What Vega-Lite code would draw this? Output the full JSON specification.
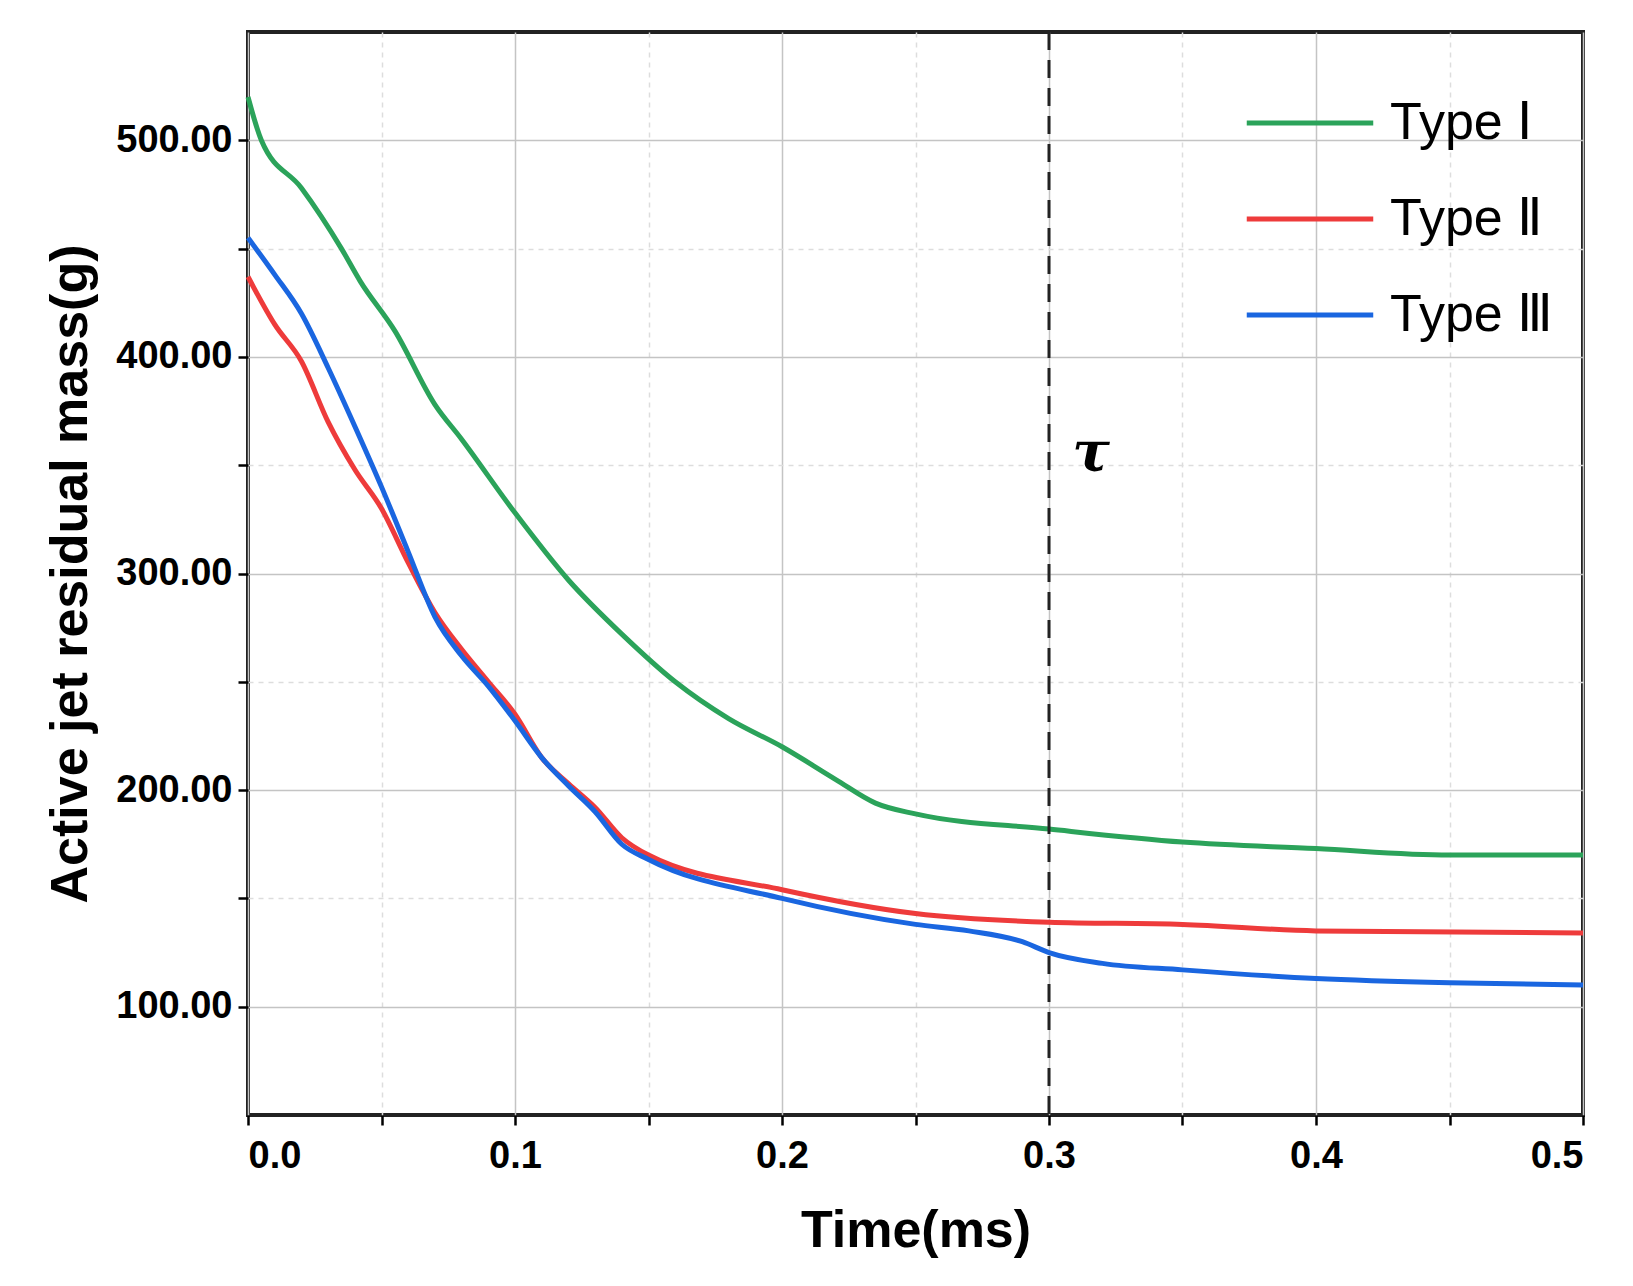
{
  "$schema": "https://vega.github.io/schema/vega-lite/v6.json",
  "width": 1335,
  "height": 1083,
  "autosize": "none",
  "padding": {"left": 248, "top": 32, "right": 50, "bottom": 171},
  "background": "white",
  "datasets": {
    "curves": [
      {"t": 0, "m": 520, "type": "Type  Ⅰ"}, {"t": 0.005, "m": 500, "type": "Type  Ⅰ"}, {"t": 0.02, "m": 478, "type": "Type  Ⅰ"},
      {"t": 0.035, "m": 450, "type": "Type  Ⅰ"}, {"t": 0.042, "m": 435, "type": "Type  Ⅰ"}, {"t": 0.055, "m": 412, "type": "Type  Ⅰ"},
      {"t": 0.07, "m": 378, "type": "Type  Ⅰ"}, {"t": 0.08, "m": 362, "type": "Type  Ⅰ"}, {"t": 0.1, "m": 328, "type": "Type  Ⅰ"},
      {"t": 0.12, "m": 297, "type": "Type  Ⅰ"}, {"t": 0.14, "m": 272, "type": "Type  Ⅰ"}, {"t": 0.16, "m": 250, "type": "Type  Ⅰ"},
      {"t": 0.18, "m": 233, "type": "Type  Ⅰ"}, {"t": 0.2, "m": 220, "type": "Type  Ⅰ"}, {"t": 0.22, "m": 205, "type": "Type  Ⅰ"},
      {"t": 0.235, "m": 194, "type": "Type  Ⅰ"}, {"t": 0.25, "m": 189, "type": "Type  Ⅰ"}, {"t": 0.3, "m": 182, "type": "Type  Ⅰ"},
      {"t": 0.35, "m": 176, "type": "Type  Ⅰ"}, {"t": 0.4, "m": 173, "type": "Type  Ⅰ"}, {"t": 0.45, "m": 170, "type": "Type  Ⅰ"},
      {"t": 0.5, "m": 170, "type": "Type  Ⅰ"},
      {"t": 0, "m": 437, "type": "Type  Ⅱ"}, {"t": 0.01, "m": 415, "type": "Type  Ⅱ"}, {"t": 0.02, "m": 398, "type": "Type  Ⅱ"},
      {"t": 0.03, "m": 370, "type": "Type  Ⅱ"}, {"t": 0.04, "m": 348, "type": "Type  Ⅱ"}, {"t": 0.05, "m": 330, "type": "Type  Ⅱ"},
      {"t": 0.06, "m": 305, "type": "Type  Ⅱ"}, {"t": 0.07, "m": 282, "type": "Type  Ⅱ"}, {"t": 0.08, "m": 265, "type": "Type  Ⅱ"},
      {"t": 0.09, "m": 250, "type": "Type  Ⅱ"}, {"t": 0.1, "m": 235, "type": "Type  Ⅱ"}, {"t": 0.11, "m": 215, "type": "Type  Ⅱ"},
      {"t": 0.12, "m": 203, "type": "Type  Ⅱ"}, {"t": 0.13, "m": 192, "type": "Type  Ⅱ"}, {"t": 0.14, "m": 178, "type": "Type  Ⅱ"},
      {"t": 0.15, "m": 170, "type": "Type  Ⅱ"}, {"t": 0.2, "m": 154, "type": "Type  Ⅱ"}, {"t": 0.25, "m": 143, "type": "Type  Ⅱ"},
      {"t": 0.3, "m": 139, "type": "Type  Ⅱ"}, {"t": 0.35, "m": 138, "type": "Type  Ⅱ"}, {"t": 0.4, "m": 135, "type": "Type  Ⅱ"},
      {"t": 0.5, "m": 134, "type": "Type  Ⅱ"},
      {"t": 0, "m": 455, "type": "Type Ⅲ"}, {"t": 0.01, "m": 438, "type": "Type Ⅲ"}, {"t": 0.02, "m": 420, "type": "Type Ⅲ"},
      {"t": 0.03, "m": 395, "type": "Type Ⅲ"}, {"t": 0.04, "m": 368, "type": "Type Ⅲ"}, {"t": 0.05, "m": 340, "type": "Type Ⅲ"},
      {"t": 0.06, "m": 310, "type": "Type Ⅲ"}, {"t": 0.07, "m": 280, "type": "Type Ⅲ"}, {"t": 0.08, "m": 262, "type": "Type Ⅲ"},
      {"t": 0.09, "m": 248, "type": "Type Ⅲ"}, {"t": 0.1, "m": 232, "type": "Type Ⅲ"}, {"t": 0.11, "m": 215, "type": "Type Ⅲ"},
      {"t": 0.12, "m": 202, "type": "Type Ⅲ"}, {"t": 0.13, "m": 190, "type": "Type Ⅲ"}, {"t": 0.14, "m": 175, "type": "Type Ⅲ"},
      {"t": 0.15, "m": 168, "type": "Type Ⅲ"}, {"t": 0.2, "m": 150, "type": "Type Ⅲ"}, {"t": 0.25, "m": 138, "type": "Type Ⅲ"},
      {"t": 0.27, "m": 135, "type": "Type Ⅲ"}, {"t": 0.29, "m": 130, "type": "Type Ⅲ"}, {"t": 0.3, "m": 125, "type": "Type Ⅲ"},
      {"t": 0.32, "m": 120, "type": "Type Ⅲ"}, {"t": 0.35, "m": 117, "type": "Type Ⅲ"}, {"t": 0.4, "m": 113, "type": "Type Ⅲ"},
      {"t": 0.45, "m": 111, "type": "Type Ⅲ"}, {"t": 0.5, "m": 110, "type": "Type Ⅲ"}
    ],
    "marker": [{"t": 0.3, "label": "τ", "ty": 355}]
  },
  "layer": [
    {
      "data": {"name": "curves"},
      "mark": {"type": "line", "strokeWidth": 5, "interpolate": "monotone"},
      "encoding": {
        "x": {
          "field": "t", "type": "quantitative", "title": "Time(ms)",
          "scale": {"domain": [0, 0.5], "nice": false},
          "axis": {
            "values": [0, 0.05, 0.1, 0.15, 0.2, 0.25, 0.3, 0.35, 0.4, 0.45, 0.5],
            "labelExpr": "round(datum.value*20) % 2 == 0 ? format(datum.value, '.1f') : ''",
            "grid": true,
            "gridColor": {"condition": {"test": "round(datum.value*20) % 2 == 1", "value": "#dddddd"}, "value": "#c4c4c4"},
            "gridDash": {"condition": {"test": "round(datum.value*20) % 2 == 1", "value": [5, 5]}, "value": []},
            "gridWidth": 1.5,
            "tickSize": 10, "tickWidth": 2.5, "tickColor": "black",
            "labelFontSize": 38, "labelFontWeight": "bold", "labelFont": "Liberation Sans", "labelColor": "black", "labelPadding": 12,
            "titleFontSize": 52, "titleFontWeight": "bold", "titleFont": "Liberation Sans", "titleColor": "black", "titlePadding": 30,
            "domain": false
          }
        },
        "y": {
          "field": "m", "type": "quantitative", "title": "Active jet residual mass(g)",
          "scale": {"domain": [50, 550], "nice": false, "zero": false},
          "axis": {
            "values": [100, 150, 200, 250, 300, 350, 400, 450, 500],
            "labelExpr": "datum.value % 100 == 0 ? format(datum.value, '.2f') : ''",
            "grid": true,
            "gridColor": {"condition": {"test": "datum.value % 100 != 0", "value": "#dddddd"}, "value": "#c4c4c4"},
            "gridDash": {"condition": {"test": "datum.value % 100 != 0", "value": [5, 5]}, "value": []},
            "gridWidth": 1.5,
            "tickSize": 10, "tickWidth": 2.5, "tickColor": "black",
            "labelFontSize": 38, "labelFontWeight": "bold", "labelFont": "Liberation Sans", "labelColor": "black", "labelPadding": 6,
            "titleFontSize": 52, "titleFontWeight": "bold", "titleFont": "Liberation Sans", "titleColor": "black", "titlePadding": 18,
            "domain": false
          }
        },
        "color": {
          "field": "type", "type": "nominal", "title": null,
          "scale": {"domain": ["Type  Ⅰ", "Type  Ⅱ", "Type Ⅲ"], "range": ["#2ba35a", "#ee3b3b", "#1a66e0"]},
          "legend": {
            "orient": "top-right", "offset": 25,
            "symbolType": "stroke", "symbolSize": 16000, "symbolStrokeWidth": 5,
            "labelFontSize": 52, "labelFont": "Liberation Sans", "labelColor": "black",
            "labelLimit": 400, "rowPadding": 4, "labelOffset": 14
          }
        }
      }
    },
    {
      "data": {"name": "marker"},
      "mark": {"type": "rule", "strokeDash": [18, 10], "strokeWidth": 3, "color": "#222222"},
      "encoding": {"x": {"field": "t", "type": "quantitative"}}
    },
    {
      "data": {"name": "marker"},
      "mark": {"type": "text", "fontSize": 56, "fontWeight": "bold", "fontStyle": "italic", "font": "DejaVu Serif", "dx": 42, "color": "black"},
      "encoding": {
        "x": {"field": "t", "type": "quantitative"},
        "y": {"field": "ty", "type": "quantitative"},
        "text": {"field": "label"}
      }
    }
  ],
  "config": {
    "view": {"stroke": "#222222", "strokeWidth": 4}
  }
}
